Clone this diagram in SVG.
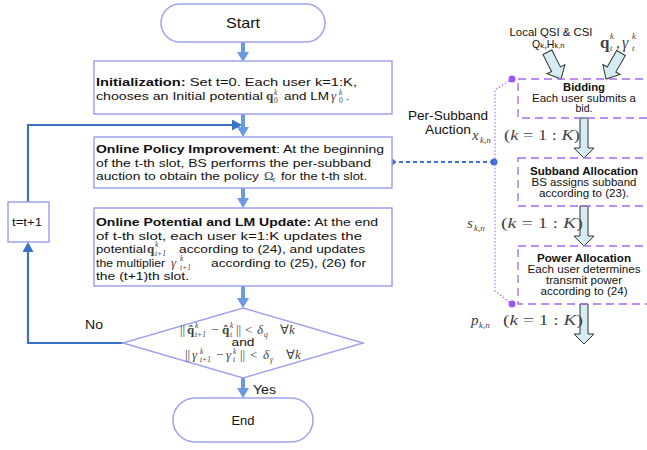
<svg xmlns="http://www.w3.org/2000/svg" width="647" height="450" viewBox="0 0 647 450">
<style>
.bx{fill:#fff;stroke:#9fa3ee;stroke-width:1.5}
.db{fill:none;stroke:#a56af0;stroke-width:1.3;stroke-dasharray:8,5}
.tx{font-family:"Liberation Sans",Arial,sans-serif;font-size:11.5px;fill:#111}
.sm{font-size:10.5px}
.b{font-weight:bold}
.mi{font-family:"Liberation Serif","Times New Roman",serif;font-style:italic;font-size:13px;fill:#444}
.mb{font-family:"Liberation Serif","Times New Roman",serif;font-weight:bold;font-size:13px;fill:#444}
.mn{font-family:"Liberation Serif","Times New Roman",serif;font-size:13px;fill:#444}
.s8{font-size:7.5px}
.flow{fill:none;stroke:#6a9ae0;stroke-width:4}
.loop{fill:none;stroke:#3a72c6;stroke-width:2.2}
.blk{fill:#d4ecf2;stroke:#333;stroke-width:1}
</style>
<defs>
<marker id="ah" markerUnits="userSpaceOnUse" markerWidth="10" markerHeight="12" viewBox="0 0 10 12" refX="0" refY="6" orient="auto"><path d="M0,0 L10,6 L0,12 z" fill="#6a9ae0"/></marker>
<marker id="ahl" markerUnits="userSpaceOnUse" markerWidth="10" markerHeight="11" viewBox="0 0 10 11" refX="0" refY="5.5" orient="auto"><path d="M0,0 L10,5.5 L0,11 z" fill="#3a72c6"/></marker>
<path id="barr" d="M-4,-40 L4,-40 L4,-10 L10,-10 L0,0 L-10,-10 L-4,-10 Z"/>
<path id="darr" d="M-5,-30 L5,-30 L5,-11 L10,-11 L0,0 L-10,-11 L-5,-11 Z"/>
</defs>

<g id="connectors">
<line class="flow" x1="243" y1="42" x2="243" y2="52" marker-end="url(#ah)"/>
<line class="flow" x1="243" y1="114" x2="243" y2="127" marker-end="url(#ah)"/>
<line class="flow" x1="243" y1="188" x2="243" y2="198" marker-end="url(#ah)"/>
<line class="flow" x1="243" y1="286" x2="243" y2="298" marker-end="url(#ah)"/>
<line class="flow" x1="243" y1="378" x2="243" y2="388" marker-end="url(#ah)"/>
<path class="loop" d="M123,343 H28 V252" marker-end="url(#ahl)"/>
<path class="loop" d="M28,202 V125 H232" marker-end="url(#ahl)"/>
<line x1="392" y1="162" x2="494" y2="162" stroke="#3b70d8" stroke-width="2" stroke-dasharray="4,3"/>
<circle cx="392" cy="162" r="3" fill="#3b70d8"/>
<circle cx="494" cy="162" r="3.5" fill="#3b70d8"/>
<path d="M512,79 L495,90 V291 L512,304" fill="none" stroke="#a070f0" stroke-width="1.2" stroke-dasharray="1.5,2"/>
<circle cx="512" cy="79" r="3.5" fill="#9b59f0"/>
<circle cx="512" cy="304" r="3.5" fill="#9b59f0"/>
<use href="#barr" class="blk" transform="translate(584,158)"/>
<use href="#barr" class="blk" transform="translate(584,246)"/>
<use href="#barr" class="blk" transform="translate(584,344)"/>
<use href="#darr" class="blk" transform="translate(561,79) rotate(-27)"/>
<use href="#darr" class="blk" transform="translate(606,79) rotate(30)"/>
</g>

<g id="start">
<rect class="bx" x="161" y="4" width="164" height="38" rx="19"/>
<text class="tx" x="243" y="28" text-anchor="middle" textLength="34" lengthAdjust="spacingAndGlyphs" style="font-size:15px">Start</text>
</g>

<g id="init">
<rect class="bx" x="94" y="61" width="298" height="53"/>
<text class="tx" x="96" y="86" textLength="261" lengthAdjust="spacingAndGlyphs"><tspan class="b">Initialization:</tspan>  Set t=0. Each user k=1:K,</text>
<text class="tx" x="96" y="99.5" textLength="167" lengthAdjust="spacingAndGlyphs">chooses an Initial potential</text>
<text class="mb" x="266" y="100">q</text>
<text class="mi s8" x="274" y="95">k</text>
<text class="mn s8" x="274" y="103">0</text>
<text class="tx" x="284" y="99.5" textLength="45" lengthAdjust="spacingAndGlyphs">and LM</text>
<text class="mi" x="331" y="100">γ</text>
<text class="mi s8" x="339" y="95">k</text>
<text class="mn s8" x="339" y="103">0</text>
<text class="tx" x="346" y="99.5">.</text>
</g>

<g id="policy">
<rect class="bx" x="94" y="137" width="298" height="51"/>
<text class="tx" x="96" y="153" textLength="288" lengthAdjust="spacingAndGlyphs"><tspan class="b">Online Policy Improvement</tspan>: At the beginning</text>
<text class="tx" x="96" y="166.5" textLength="275" lengthAdjust="spacingAndGlyphs">of the t-th slot, BS performs the per-subband</text>
<text class="tx" x="96" y="180" textLength="163" lengthAdjust="spacingAndGlyphs">auction to obtain the policy</text>
<text class="mn" x="264" y="180">Ω</text>
<text class="mi s8" x="273" y="182">t</text>
<text class="tx" x="281" y="180" textLength="86" lengthAdjust="spacingAndGlyphs">for the t-th slot.</text>
</g>

<g id="update">
<rect class="bx" x="94" y="208" width="298" height="78"/>
<text class="tx" x="96" y="226" textLength="282" lengthAdjust="spacingAndGlyphs"><tspan class="b">Online Potential and LM Update:</tspan> At the end</text>
<text class="tx" x="96" y="239.5" textLength="266" lengthAdjust="spacingAndGlyphs">of t-th slot, each user k=1:K updates the</text>
<text class="tx" x="96" y="253" textLength="50" lengthAdjust="spacingAndGlyphs">potential</text>
<text class="mb" x="147" y="253">q</text>
<text class="mi s8" x="155" y="247">k</text>
<text class="mi s8" x="155" y="256">t+1</text>
<text class="tx" x="179" y="253" textLength="186" lengthAdjust="spacingAndGlyphs">according to (24), and updates</text>
<text class="tx" x="96" y="266.5" textLength="69" lengthAdjust="spacingAndGlyphs">the multiplier</text>
<text class="mi" x="171" y="266.5">γ</text>
<text class="mi s8" x="180" y="261">k</text>
<text class="mi s8" x="180" y="270">t+1</text>
<text class="tx" x="211" y="266.5" textLength="155" lengthAdjust="spacingAndGlyphs">according to (25), (26) for</text>
<text class="tx" x="96" y="280" textLength="93" lengthAdjust="spacingAndGlyphs">the (t+1)th slot.</text>
</g>

<g id="decision">
<polygon class="bx" points="243,308 363,343 243,378 123,343"/>
<text class="mn" x="180" y="334">||</text>
<text class="mb" x="187" y="334">q̂</text>
<text class="mi s8" x="195" y="328">k</text>
<text class="mi s8" x="195" y="337">t+1</text>
<text class="mn" x="211" y="334">−</text>
<text class="mb" x="222" y="334">q̂</text>
<text class="mi s8" x="230" y="328">k</text>
<text class="mi s8" x="230" y="337">t</text>
<text class="mn" x="236" y="334">||</text>
<text class="mn" x="245" y="334">&lt;</text>
<text class="mi" x="257" y="334">δ</text>
<text class="mi s8" x="264" y="337">q</text>
<text class="mn" x="280" y="334">∀<tspan class="mi">k</tspan></text>
<text class="tx" x="243" y="346" text-anchor="middle" textLength="23" lengthAdjust="spacingAndGlyphs" style="font-size:10.5px">and</text>
<text class="mn" x="185" y="359">||</text>
<text class="mi" x="192" y="359">γ</text>
<text class="mi s8" x="200" y="354">k</text>
<text class="mi s8" x="200" y="362">t+1</text>
<text class="mn" x="216" y="359">−</text>
<text class="mi" x="226" y="359">γ</text>
<text class="mi s8" x="233" y="354">k</text>
<text class="mi s8" x="233" y="362">t</text>
<text class="mn" x="240" y="359">||</text>
<text class="mn" x="250" y="359">&lt;</text>
<text class="mi" x="263" y="359">δ</text>
<text class="mi s8" x="270" y="362">γ</text>
<text class="mn" x="286" y="359">∀<tspan class="mi">k</tspan></text>
</g>

<g id="end">
<rect class="bx" x="173" y="398" width="140" height="44" rx="22"/>
<text class="tx" x="243" y="425" text-anchor="middle" textLength="23" lengthAdjust="spacingAndGlyphs" style="font-size:13px">End</text>
</g>

<g id="tinc">
<rect class="bx" x="8" y="202" width="41" height="40"/>
<text class="tx" x="27" y="226" text-anchor="middle" textLength="30" lengthAdjust="spacingAndGlyphs">t=t+1</text>
</g>

<g id="labels">
<text class="tx" x="94" y="329" text-anchor="middle" textLength="18" lengthAdjust="spacingAndGlyphs" style="font-size:12px">No</text>
<text class="tx" x="253" y="394" textLength="23" lengthAdjust="spacingAndGlyphs" style="font-size:12px">Yes</text>
<text class="tx" x="448" y="120" text-anchor="middle" textLength="80" lengthAdjust="spacingAndGlyphs" style="font-size:12px">Per-Subband</text>
<text class="tx" x="448" y="134" text-anchor="middle" textLength="46" lengthAdjust="spacingAndGlyphs" style="font-size:12px">Auction</text>
<text class="tx sm" x="551" y="35.5" text-anchor="middle" textLength="83" lengthAdjust="spacingAndGlyphs">Local QSI &amp; CSI</text>
<text class="tx sm" x="532" y="47.5">Q<tspan style="font-size:7.5px">k</tspan>,H<tspan style="font-size:7.5px">k,n</tspan></text>
<text class="mb" x="600" y="48" style="font-size:17px">q</text>
<text class="mi" x="610" y="39" style="font-size:9px">k</text>
<text class="mi" x="610" y="51" style="font-size:9px">t</text>
<text class="mn" x="616" y="48" style="font-size:15px">,</text>
<text class="mi" x="622" y="48" style="font-size:16px">γ</text>
<text class="mi" x="632" y="39" style="font-size:9px">k</text>
<text class="mi" x="632" y="51" style="font-size:9px">t</text>
<text class="mi" x="472" y="140" style="font-size:15px">x</text>
<text class="mi" x="480" y="143" style="font-size:9px">k,n</text>
<text class="mn" x="504" y="140" textLength="76" lengthAdjust="spacingAndGlyphs" style="font-size:15px">(<tspan class="mi" style="font-size:15px">k</tspan> = 1 : <tspan class="mi" style="font-size:15px">K</tspan>)</text>
<text class="mi" x="467" y="228" style="font-size:15px">s</text>
<text class="mi" x="474" y="231" style="font-size:9px">k,n</text>
<text class="mn" x="501" y="228" textLength="82" lengthAdjust="spacingAndGlyphs" style="font-size:15px">(<tspan class="mi" style="font-size:15px">k</tspan> = 1 : <tspan class="mi" style="font-size:15px">K</tspan>)</text>
<text class="mi" x="471" y="325" style="font-size:15px">p</text>
<text class="mi" x="479" y="328" style="font-size:9px">k,n</text>
<text class="mn" x="503" y="325" textLength="80" lengthAdjust="spacingAndGlyphs" style="font-size:15px">(<tspan class="mi" style="font-size:15px">k</tspan> = 1 : <tspan class="mi" style="font-size:15px">K</tspan>)</text>
</g>

<g id="bidding">
<rect class="db" x="518" y="79" width="136" height="39"/>
<text class="tx sm b" x="584" y="91" text-anchor="middle" textLength="42" lengthAdjust="spacingAndGlyphs">Bidding</text>
<text class="tx sm" x="584" y="101.5" text-anchor="middle" textLength="104" lengthAdjust="spacingAndGlyphs">Each user submits a</text>
<text class="tx sm" x="584" y="112" text-anchor="middle">bid.</text>
</g>

<g id="subband">
<rect class="db" x="518" y="158" width="136" height="48"/>
<text class="tx sm b" x="584" y="174.5" text-anchor="middle" textLength="108" lengthAdjust="spacingAndGlyphs">Subband Allocation</text>
<text class="tx sm" x="584" y="186" text-anchor="middle" textLength="105" lengthAdjust="spacingAndGlyphs">BS assigns subband</text>
<text class="tx sm" x="584" y="196.5" text-anchor="middle" textLength="90" lengthAdjust="spacingAndGlyphs">according to (23).</text>
</g>

<g id="power">
<rect class="db" x="518" y="246" width="136" height="58"/>
<text class="tx sm b" x="584" y="261.5" text-anchor="middle" textLength="94" lengthAdjust="spacingAndGlyphs">Power Allocation</text>
<text class="tx sm" x="584" y="272.5" text-anchor="middle" textLength="113" lengthAdjust="spacingAndGlyphs">Each user determines</text>
<text class="tx sm" x="584" y="283.5" text-anchor="middle" textLength="76" lengthAdjust="spacingAndGlyphs">transmit power</text>
<text class="tx sm" x="584" y="295" text-anchor="middle" textLength="87" lengthAdjust="spacingAndGlyphs">according to (24)</text>
</g>
</svg>
